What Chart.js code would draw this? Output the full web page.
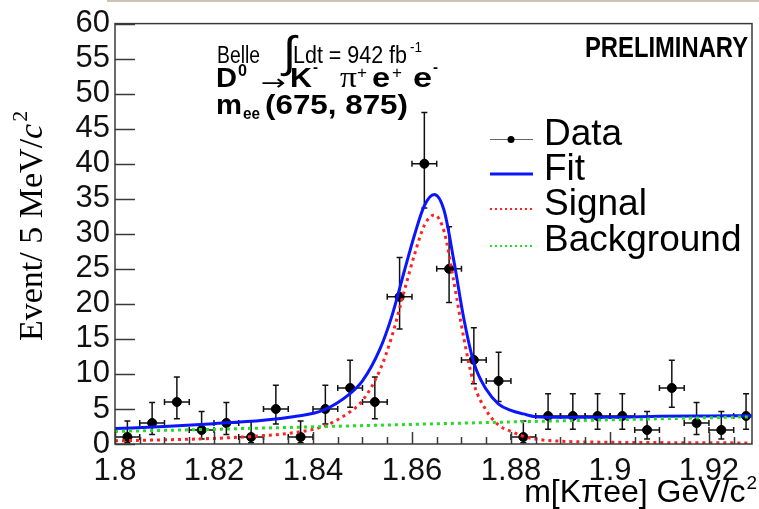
<!DOCTYPE html>
<html>
<head>
<meta charset="utf-8">
<script src="https://cdn.jsdelivr.net/npm/chart.js@4.4.1/dist/chart.umd.min.js"></script>
<style>
  html, body { margin: 0; padding: 0; background: #fff; }
</style>
</head>
<body>
<canvas id="c" width="759" height="509"></canvas>
<script>
// D0 -> K pi e e candidates, 5 MeV bins
const binCenters = [1.8025, 1.8075, 1.8125, 1.8175, 1.8225, 1.8275, 1.8325, 1.8375, 1.8425, 1.8475,
                    1.8525, 1.8575, 1.8625, 1.8675, 1.8725, 1.8775, 1.8825, 1.8875, 1.8925, 1.8975,
                    1.9025, 1.9075, 1.9125, 1.9175, 1.9225, 1.9275];
const counts  = [1, 3, 6, 2, 3, 1, 5, 1, 5, 8, 6, 21, 40, 25, 12, 9, 1, 4, 4, 4, 4, 2, 8, 3, 2, 4];
const errLow  = [0.17, 1.37, 3.62, 0.71, 1.37, 0.17, 2.84, 0.17, 2.84, 5.23, 3.62, 16.4, 33.7, 20.2, 8.6, 6.06, 0.17, 2.09, 2.09, 2.09, 2.09, 0.71, 5.23, 1.37, 0.71, 2.09];
const errHigh = [3.3, 5.92, 9.58, 4.64, 5.92, 3.3, 8.38, 3.3, 8.38, 11.94, 9.58, 26.6, 47.3, 31.0, 16.6, 13.1, 3.3, 7.16, 7.16, 7.16, 7.16, 4.64, 11.94, 5.92, 4.64, 7.16];
const binHalfWidth = 0.0025;

// curves
const curveX = [1.800, 1.810, 1.820, 1.830, 1.836, 1.842, 1.8475, 1.850, 1.8535, 1.856, 1.8585, 1.8605, 1.8625, 1.8645,
                1.8665, 1.8685, 1.8705, 1.8725, 1.875, 1.8775, 1.880, 1.8825, 1.885, 1.890, 1.900, 1.910, 1.920, 1.930];
const fitY    = [2.2, 2.5, 2.9, 3.4, 3.9, 4.8, 7.2, 9.0, 13.5, 18.4, 24.8, 29.8, 34.0, 35.6,
                 33.3, 26.0, 17.8, 11.6, 7.8, 5.7, 4.8, 4.3, 3.9, 3.8, 3.8, 3.95, 4.0, 4.05];
const signalY = [0.45, 0.6, 0.8, 1.2, 1.6, 2.5, 4.6, 6.2, 10.5, 15.5, 22.0, 27.0, 31.2, 32.7,
                 30.3, 23.0, 15.0, 8.6, 4.8, 2.7, 1.8, 1.1, 0.7, 0.4, 0.25, 0.2, 0.17, 0.15];
const bkgX = [1.80, 1.82, 1.84, 1.86, 1.88, 1.90, 1.92, 1.93];
const bkgY = [1.8, 2.1, 2.45, 2.8, 3.15, 3.45, 3.75, 3.9];

const SANS = '"Liberation Sans", Arial, sans-serif';
const SERIF = '"Liberation Serif", "Times New Roman", serif';

const pts = (xs, ys) => xs.map((x, i) => ({ x, y: ys[i] }));

// draw text starting at x, squeezed/stretched to width w
function fitText(ctx, txt, x, y, font, w){
  ctx.save();
  ctx.font = font;
  const m = ctx.measureText(txt).width;
  ctx.translate(x, y);
  if (w) ctx.scale(w / m, 1);
  ctx.textAlign = 'left';
  ctx.textBaseline = 'alphabetic';
  ctx.fillText(txt, 0, 0);
  ctx.restore();
}

const errorBars = {
  id: 'errorBars',
  beforeDatasetsDraw(chart){
    const { ctx, chartArea: a, scales: { x, y } } = chart;
    ctx.save();
    ctx.beginPath(); ctx.rect(a.left, a.top, a.width, a.height); ctx.clip();
    ctx.strokeStyle = '#111'; ctx.lineWidth = 1.5;
    binCenters.forEach((c, i) => {
      const px = x.getPixelForValue(c), py = y.getPixelForValue(counts[i]);
      const x0 = x.getPixelForValue(c - binHalfWidth), x1 = x.getPixelForValue(c + binHalfWidth);
      const yl = y.getPixelForValue(errLow[i]), yh = y.getPixelForValue(errHigh[i]);
      ctx.beginPath();
      ctx.moveTo(x0, py); ctx.lineTo(x1, py);
      ctx.moveTo(x0, py - 3); ctx.lineTo(x0, py + 3);
      ctx.moveTo(x1, py - 3); ctx.lineTo(x1, py + 3);
      ctx.moveTo(px, yl); ctx.lineTo(px, yh);
      ctx.moveTo(px - 3, yl); ctx.lineTo(px + 3, yl);
      ctx.moveTo(px - 3, yh); ctx.lineTo(px + 3, yh);
      ctx.stroke();
    });
    ctx.restore();
  }
};

// ROOT-style frame with inward ticks
const frame = {
  id: 'frame',
  afterDatasetsDraw(chart){
    const { ctx, chartArea: a, scales: { x, y } } = chart;
    ctx.save();
    ctx.strokeStyle = '#3a3a3a'; ctx.lineWidth = 1.5;
    ctx.strokeRect(a.left, a.top, a.width, a.height);
    ctx.beginPath();
    y.ticks.forEach(t => {
      const py = Math.round(y.getPixelForValue(t.value)) + 0.5;
      ctx.moveTo(a.left, py); ctx.lineTo(a.left + 20, py);
    });
    for (let k = 0; ; k++){
      const v = 1.8 + k * 0.005;
      if (v > x.max) break;
      const px = Math.round(x.getPixelForValue(v)) + 0.5;
      const len = k % 4 === 0 ? 12 : 7;
      ctx.moveTo(px, a.bottom); ctx.lineTo(px, a.bottom - len);
    }
    ctx.stroke();
    ctx.restore();
  }
};

const labels = {
  id: 'labels',
  afterDraw(chart){
    const { ctx } = chart;
    ctx.save();
    ctx.fillStyle = '#cbc4b4';
    ctx.fillRect(107, 0, 652, 2);
    ctx.fillStyle = '#000';

    // y title
    ctx.save();
    ctx.translate(42, 341); ctx.rotate(-Math.PI / 2);
    ctx.textBaseline = 'alphabetic';
    ctx.font = '34px ' + SERIF;
    const t1 = 'Event/ 5 MeV/';
    ctx.fillText(t1, 0, 0);
    let w = ctx.measureText(t1).width;
    ctx.font = 'italic 34px ' + SERIF;
    ctx.fillText('c', w, 0);
    w += ctx.measureText('c').width;
    ctx.font = '22px ' + SERIF;
    ctx.fillText('2', w + 2, -15);
    ctx.restore();

    // x title
    ctx.font = '32px ' + SANS;
    const xt = 'm[K\u03c0ee] GeV/c';
    const xw = ctx.measureText(xt).width;
    ctx.font = '19px ' + SANS;
    const sw = ctx.measureText('2').width;
    const x0 = 756 - xw - sw;
    ctx.font = '32px ' + SANS;
    ctx.fillText(xt, x0, 502);
    ctx.font = '19px ' + SANS;
    ctx.fillText('2', x0 + xw + 1, 489);

    // experiment label
    fitText(ctx, 'Belle', 217, 63, '23px ' + SANS, 43);
    fitText(ctx, '\u222b', 283, 67, '44px ' + SANS, 13);
    fitText(ctx, 'Ldt = 942 fb', 293, 63, '23px ' + SANS, 114);
    fitText(ctx, '-1', 410, 52, '14px ' + SANS, 12);
    fitText(ctx, 'D', 216, 87, 'bold 27px ' + SANS, 21);
    fitText(ctx, '0', 238, 76, 'bold 16px ' + SANS, 9);
    fitText(ctx, '\u2192', 261, 90, '22px "DejaVu Sans"', 25);
    fitText(ctx, 'K', 290, 87, 'bold 27px ' + SANS, 22);
    fitText(ctx, '-', 313, 72, 'bold 15px ' + SANS, 5);
    fitText(ctx, '\u03c0', 340, 87, '30px ' + SERIF, 17);
    fitText(ctx, '+', 357, 78, '17px ' + SANS, 10);
    fitText(ctx, 'e', 372, 87, 'bold 27px ' + SANS, 18);
    fitText(ctx, '+', 392, 78, '17px ' + SANS, 10);
    fitText(ctx, 'e', 413, 87, 'bold 27px ' + SANS, 19);
    fitText(ctx, '-', 433, 72, 'bold 15px ' + SANS, 5);
    fitText(ctx, 'm', 216, 114, 'bold 28px ' + SANS, 26);
    fitText(ctx, 'ee', 243, 119, 'bold 17px ' + SANS, 17);
    fitText(ctx, '(675, 875)', 265, 114, 'bold 28px ' + SANS, 143);
    fitText(ctx, 'PRELIMINARY', 585, 57, 'bold 30px ' + SANS, 163);

    // legend
    const ds = chart.data.datasets;
    const rows = [
      { ds: ds[3], lineY: 139, base: 145 },
      { ds: ds[2], lineY: 174, base: 180 },
      { ds: ds[1], lineY: 209, base: 215 },
      { ds: ds[0], lineY: 246, base: 251 }
    ];
    rows.forEach(r => {
      ctx.save();
      ctx.beginPath();
      if (r.ds.label === 'Data'){
        ctx.strokeStyle = '#666'; ctx.lineWidth = 1;
        ctx.moveTo(490, r.lineY + 0.5); ctx.lineTo(533, r.lineY + 0.5); ctx.stroke();
        ctx.beginPath(); ctx.fillStyle = '#000';
        ctx.arc(511, r.lineY + 0.5, 3.5, 0, Math.PI * 2); ctx.fill();
      } else {
        ctx.strokeStyle = r.ds.borderColor;
        ctx.lineWidth = r.ds.borderDash ? 2 : 3;
        ctx.setLineDash(r.ds.borderDash ? [2, 3] : []);
        ctx.moveTo(490, r.lineY); ctx.lineTo(533, r.lineY); ctx.stroke();
      }
      ctx.restore();
      ctx.font = '37px ' + SANS;
      ctx.fillStyle = '#000';
      ctx.fillText(r.ds.label, 544, r.base);
    });
    ctx.restore();
  }
};

new Chart(document.getElementById('c'), {
  type: 'scatter',
  data: {
    datasets: [
      { label: 'Background', type: 'line', data: pts(bkgX, bkgY), borderColor: '#22dd22',
        borderWidth: 3, borderDash: [3, 4], pointRadius: 0, fill: false, order: 1 },
      { label: 'Signal', type: 'line', data: pts(curveX, signalY), borderColor: '#ff2222',
        borderWidth: 3, borderDash: [3, 4], pointRadius: 0, fill: false,
        cubicInterpolationMode: 'monotone', order: 2 },
      { label: 'Fit', type: 'line', data: pts(curveX, fitY), borderColor: '#0b16ff',
        borderWidth: 3, pointRadius: 0, fill: false, cubicInterpolationMode: 'monotone', order: 3 },
      { label: 'Data', data: pts(binCenters, counts), pointRadius: 4.5, pointHoverRadius: 4.5,
        backgroundColor: '#000', borderColor: '#000', order: 4 }
    ]
  },
  options: {
    responsive: false,
    devicePixelRatio: 1,
    animation: false,
    layout: { padding: { top: 23, right: 7, left: 0, bottom: 0 } },
    plugins: { legend: { display: false }, tooltip: { enabled: false } },
    scales: {
      x: {
        type: 'linear', min: 1.8, max: 1.9287,
        afterFit(s){ s.height = 65; },
        grid: { display: false, drawTicks: false }, border: { display: false },
        ticks: {
          stepSize: 0.02, includeBounds: false, autoSkip: false, maxRotation: 0,
          padding: 9, color: '#111', font: { family: SANS, size: 31 },
          callback: v => String(+v.toFixed(2))
        }
      },
      y: {
        min: 0, max: 60,
        afterFit(s){ s.width = 115; },
        grid: { display: false, drawTicks: false }, border: { display: false },
        ticks: { stepSize: 5, autoSkip: false, padding: 5, color: '#111', font: { family: SANS, size: 31 } }
      }
    }
  },
  plugins: [errorBars, frame, labels]
});
</script>
</body>
</html>
